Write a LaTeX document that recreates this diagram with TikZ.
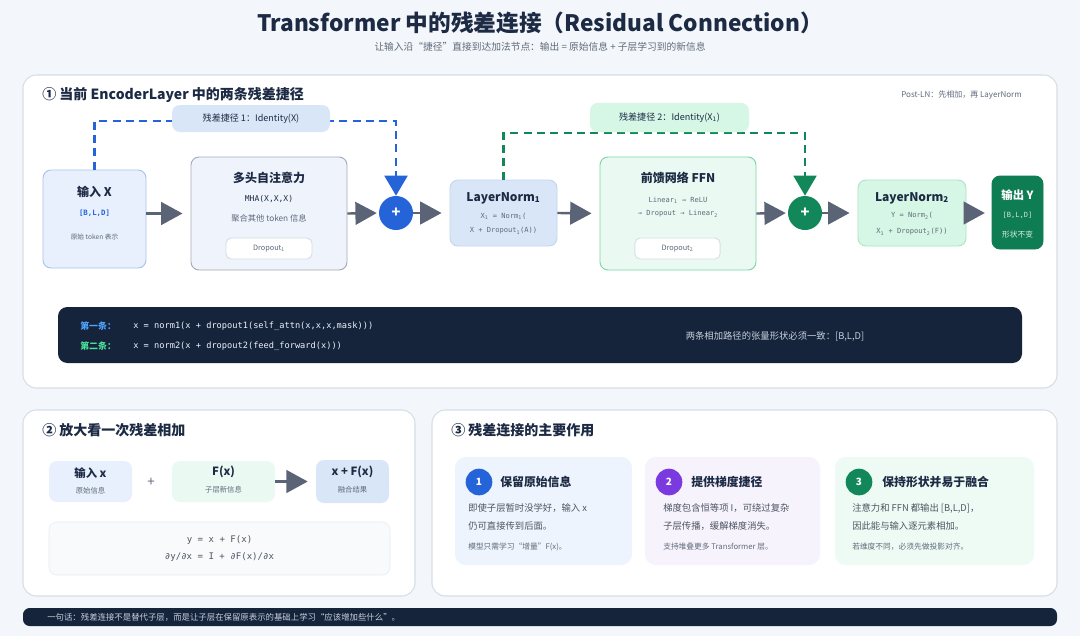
\documentclass[tikz,border=0pt]{standalone}
\usepackage{fontspec}
\setmainfont{Noto Sans CJK SC}
\setmonofont{DejaVu Sans Mono}
\usepackage{tikz}
\usetikzlibrary{arrows.meta}

\definecolor{ink}{HTML}{1C2A44}
\definecolor{bgc}{HTML}{F3F6FA}
\definecolor{rimc}{HTML}{D7DEE8}
\definecolor{arrowc}{HTML}{5B6476}
\definecolor{bluec}{HTML}{2563D9}
\definecolor{greenc}{HTML}{12885A}
\definecolor{purplec}{HTML}{7B3AE0}
\definecolor{navyc}{HTML}{15233B}
\definecolor{greyc}{HTML}{5F6B7B}
\definecolor{lightc}{HTML}{C9D1DD}
\definecolor{skyfill}{HTML}{E7F0FC}
\definecolor{skyline}{HTML}{A9C4E6}
\definecolor{skydeep}{HTML}{D9E6F8}
\definecolor{mintfill}{HTML}{EAFAF2}
\definecolor{mintline}{HTML}{7BD6A6}
\definecolor{mintdeep}{HTML}{D6F6E6}
\definecolor{mintrim}{HTML}{A9E5C6}
\definecolor{outfill}{HTML}{0E7D53}

\tikzstyle{panel} = [draw=rimc, fill=white, line width=0.8pt, rounded corners=10pt]
\tikzstyle{box} = [draw, line width=0.7pt, rounded corners=6pt]
\tikzstyle{flow} = [draw=arrowc, line width=1.8pt, -{Triangle[length=16pt,width=17pt]}, shorten >=6pt]
\tikzstyle{shortcut} = [line width=2.2pt, dash pattern=on 6pt off 4pt, -{Triangle[length=15pt,width=17pt]}]
\tikzstyle{hd} = [font=\bfseries\fontsize{9}{10}\selectfont, text=ink]
\tikzstyle{sm} = [font=\fontsize{6.2}{7}\selectfont, text=greyc]
\tikzstyle{cd} = [font=\ttfamily\fontsize{5.3}{6}\selectfont, text=greyc]
\tikzstyle{card} = [rounded corners=8pt, minimum height=81pt]
\tikzstyle{num} = [circle, minimum size=20pt, text=white, font=\bfseries\fontsize{7.5}{8}\selectfont]
\tikzstyle{ctl} = [anchor=west, font=\bfseries\fontsize{8.9}{10}\selectfont]
\tikzstyle{ctx} = [anchor=west, font=\fontsize{7}{8}\selectfont, text=greyc!80!black]
\tikzstyle{cnote} = [anchor=west, font=\fontsize{5.8}{7}\selectfont, text=greyc]

\begin{document}
\begin{tikzpicture}[x=0.75pt, y=-0.75pt]
	\tikzstyle{every node}=[inner sep=0pt, text=ink]
	\useasboundingbox (0,0) rectangle (1080,636);
	\fill[bgc] (0,0) rectangle (1080,636);
	
	% ------------------- Title ------------------- %
	\node (ttl) at (540,23) {\bfseries\fontsize{17}{20}\selectfont Transformer 中的残差连接（Residual Connection）};
	\node[font=\fontsize{7.3}{8}\selectfont, text=greyc] (sub) at (540,47) {让输入沿“捷径”直接到达加法节点：输出 = 原始信息 + 子层学习到的新信息};
	
	% ------------------- Panel 1 ------------------- %
	\node[panel, minimum width=775.5pt, minimum height=234.75pt] (p1) at (540,231.5) {};
	\node[anchor=west, font=\bfseries\fontsize{10.5}{12}\selectfont] (p1t) at (42,95) {① 当前 EncoderLayer 中的两条残差捷径};
	\node[anchor=east, font=\fontsize{6}{7}\selectfont, text=greyc] (postln) at (1022,95) {Post-LN：先相加，再 LayerNorm};
	
	\node[box, draw=skyline, fill=skyfill, minimum width=77.25pt, minimum height=73.5pt] (inx) at (94.5,219) {};
	\node[hd] (inxt) at (94.5,192) {输入 X};
	\node[font=\ttfamily\bfseries\fontsize{5.5}{6}\selectfont, text=bluec] (inxs) at (94.5,213) {[B,L,D]};
	\node[sm, font=\fontsize{5}{6}\selectfont] (inxn) at (94.5,237) {原始 token 表示};
	
	\node[box, draw=arrowc!55, fill=bluec!8, minimum width=117pt, minimum height=84.75pt] (mha) at (269,213.5) {};
	\node[hd] (mhat) at (269,178) {多头自注意力};
	\node[cd, font=\ttfamily\fontsize{6}{7}\selectfont, text=ink] (mhaf) at (269,199) {MHA(X,X,X)};
	\node[sm] (mhan) at (269,218) {聚合其他 token 信息};
	\node[box, draw=rimc, fill=white, rounded corners=4pt, minimum width=64.5pt, minimum height=15.75pt, font=\fontsize{5.5}{6}\selectfont, text=greyc] (do1) at (269,248.5) {Dropout\textsubscript{1}};
	
	\node[circle, fill=bluec, minimum size=25.5pt, text=white, font=\bfseries\fontsize{11}{12}\selectfont] (plus1) at (396,213) {+};
	
	\node[box, draw=skyline!70, fill=skydeep, minimum width=80.25pt, minimum height=49.5pt] (ln1) at (503.5,213) {};
	\node[hd] (ln1t) at (503.5,198) {LayerNorm\textsubscript{1}};
	\node[cd] (ln1a) at (503.5,216) {X\textsubscript{1} = Norm\textsubscript{1}(};
	\node[cd] (ln1b) at (503.5,231) {X + Dropout\textsubscript{1}(A))};
	
	\node[box, draw=mintline, fill=mintfill, minimum width=117pt, minimum height=84.75pt] (ffn) at (678,213.5) {};
	\node[hd] (ffnt) at (678,178) {前馈网络 FFN};
	\node[cd] (ffna) at (678,200) {Linear\textsubscript{1} → ReLU};
	\node[cd] (ffnb) at (678,214) {→ Dropout → Linear\textsubscript{2}};
	\node[box, draw=rimc, fill=white, rounded corners=4pt, minimum width=64pt, minimum height=15.75pt, font=\fontsize{5.5}{6}\selectfont, text=greyc] (do2) at (677.5,248.5) {Dropout\textsubscript{2}};
	
	\node[circle, fill=greenc, minimum size=25.5pt, text=white, font=\bfseries\fontsize{11}{12}\selectfont] (plus2) at (805,213) {+};
	
	\node[box, draw=mintrim, fill=mintdeep, minimum width=81pt, minimum height=49.5pt] (ln2) at (912,213) {};
	\node[hd] (ln2t) at (912,198) {LayerNorm\textsubscript{2}};
	\node[cd] (ln2a) at (912,216) {Y = Norm\textsubscript{2}(};
	\node[cd] (ln2b) at (912,232) {X\textsubscript{1} + Dropout\textsubscript{2}(F))};
	
	\node[box, draw=outfill, fill=outfill, minimum width=38.25pt, minimum height=54.75pt] (outy) at (1017.5,212.5) {};
	\node[hd, text=white, font=\bfseries\fontsize{8.5}{9}\selectfont] (outt) at (1017.5,195) {输出 Y};
	\node[font=\ttfamily\fontsize{5.3}{6}\selectfont, text=white!80!outfill] (outs) at (1017.5,215) {[B,L,D]};
	\node[font=\fontsize{5.8}{6}\selectfont, text=white!85!outfill] (outn) at (1017.5,235) {形状不变};
	
	% ------------------- Main arrows ------------------- %
	\draw[flow] (inx.east |- mha) -- (mha.west);
	\draw[flow, shorten >=1.5pt] (mha.east) -- (plus1.west);
	\draw[flow] (plus1.east) -- (ln1.west);
	\draw[flow] (ln1.east) -- (ffn.west);
	\draw[flow, shorten >=1.5pt] (ffn.east) -- (plus2.west);
	\draw[flow] (plus2.east) -- (ln2.west);
	\draw[flow, shorten >=5pt] (ln2.east) -- (outy.west |- ln2);
	
	% ------------------- Residual shortcuts ------------------- %
	\coordinate (c1) at (396,121);
	\coordinate (c2) at (805,133);
	\draw[shortcut, draw=bluec] (inx.north) |- (c1) -- (plus1.north);
	\draw[shortcut, draw=greenc] (ln1.north) |- (c2) -- (plus2.north);
	
	\node[fill=skydeep, rounded corners=6pt, minimum width=118.5pt, minimum height=20.25pt, font=\fontsize{6.8}{7}\selectfont] (lab1) at (251,118.5) {残差捷径 1：Identity(X)};
	\node[fill=mintdeep, rounded corners=6pt, minimum width=119.25pt, minimum height=22pt, font=\fontsize{6.8}{7}\selectfont] (lab2) at (669.5,117.5) {残差捷径 2：Identity(X\textsubscript{1})};
	
	% ------------------- Code bar ------------------- %
	\node[fill=navyc, rounded corners=7pt, minimum width=723pt, minimum height=42pt] (code) at (540,335) {};
	\node[anchor=west, font=\bfseries\fontsize{6.7}{7}\selectfont, text={rgb,255:red,78;green,163;blue,255}] (k1) at (80,326) {第一条：};
	\node[anchor=west, font=\ttfamily\fontsize{6.5}{7}\selectfont, text=white!92!bluec] (k1c) at (133,326) {x = norm1(x + dropout1(self\_attn(x,x,x,mask)))};
	\node[anchor=west, font=\bfseries\fontsize{6.7}{7}\selectfont, text={rgb,255:red,74;green,222;blue,154}] (k2) at (80,346) {第二条：};
	\node[anchor=west, font=\ttfamily\fontsize{6.5}{7}\selectfont, text=white!92!bluec] (k2c) at (133,346) {x = norm2(x + dropout2(feed\_forward(x)))};
	\node[font=\fontsize{7}{8}\selectfont, text=lightc] (shape) at (775,336) {两条相加路径的张量形状必须一致：[B,L,D]};
	
	% ------------------- Panel 2 ------------------- %
	\node[panel, minimum width=294pt, minimum height=139.5pt] (p2) at (219,503) {};
	\node[anchor=west, font=\bfseries\fontsize{10.5}{12}\selectfont] (p2t) at (42,430) {② 放大看一次残差相加};
	
	\node[fill=skyfill, rounded corners=6pt, minimum width=62.25pt, minimum height=30.75pt] (bx) at (90.5,481.5) {};
	\node[hd, font=\bfseries\fontsize{8.5}{9}\selectfont] (bxt) at (90.5,473) {输入 x};
	\node[sm, font=\fontsize{5.5}{6}\selectfont] (bxn) at (90.5,491) {原始信息};
	\node[font=\fontsize{10}{11}\selectfont, text=greyc] (pl) at (151,482) {+};
	\node[fill=mintfill, rounded corners=6pt, minimum width=77.25pt, minimum height=30.75pt] (bf) at (223.5,481.5) {};
	\node[hd, font=\bfseries\fontsize{8.5}{9}\selectfont] (bft) at (223.5,472) {F(x)};
	\node[sm, font=\fontsize{5.5}{6}\selectfont] (bfn) at (223.5,490) {子层新信息};
	\node[fill=skydeep, rounded corners=6pt, minimum width=54.75pt, minimum height=32.25pt] (bs) at (352.5,481.5) {};
	\node[hd, font=\bfseries\fontsize{8.5}{9}\selectfont] (bst) at (352.5,472) {x + F(x)};
	\node[sm, font=\fontsize{5.5}{6}\selectfont] (bsn) at (352.5,490) {融合结果};
	\draw[flow] (bf.east) -- (bs.west);
	
	\node[draw=rimc!60, fill=bgc!60, rounded corners=6pt, minimum width=255.75pt, minimum height=39.75pt] (fml) at (219.5,548.5) {};
	\node[font=\ttfamily\fontsize{6.8}{7}\selectfont, text=greyc!80!black] (fml1) at (219.5,540) {y = x + F(x)};
	\node[font=\ttfamily\fontsize{6.8}{7}\selectfont, text=greyc!80!black] (fml2) at (219.5,557) {∂y/∂x = I + ∂F(x)/∂x};
	
	% ------------------- Panel 3 ------------------- %
	\node[panel, minimum width=468.75pt, minimum height=139.5pt] (p3) at (744.5,503) {};
	\node[anchor=west, font=\bfseries\fontsize{10.5}{12}\selectfont] (p3t) at (451,430) {③ 残差连接的主要作用};
	
	\node[card, fill=skyfill!75, minimum width=132.75pt] (c1b) at (543.5,511) {};
	\node[num, fill=bluec] (n1) at (479,482) {1};
	\node[ctl] (t1) at (500,482) {保留原始信息};
	\node[ctx] (a1) at (468,508) {即使子层暂时没学好，输入 x};
	\node[ctx] (b1) at (468,526) {仍可直接传到后面。};
	\node[cnote] (d1) at (468,547) {模型只需学习“增量”F(x)。};
	
	\node[card, fill=purplec!6, minimum width=131.25pt] (c2b) at (732.5,511) {};
	\node[num, fill=purplec] (n2) at (669,482) {2};
	\node[ctl] (t2) at (691,482) {提供梯度捷径};
	\node[ctx] (a2) at (663,508) {梯度包含恒等项 I，可绕过复杂};
	\node[ctx] (b2) at (663,526) {子层传播，缓解梯度消失。};
	\node[cnote] (d2) at (663,547) {支持堆叠更多 Transformer 层。};
	
	\node[card, fill=mintfill!85, minimum width=149.25pt] (c3b) at (934.5,511) {};
	\node[num, fill=greenc] (n3) at (859,482) {3};
	\node[ctl] (t3) at (882,482) {保持形状并易于融合};
	\node[ctx] (a3) at (852,508) {注意力和 FFN 都输出 [B,L,D]，};
	\node[ctx] (b3) at (852,526) {因此能与输入逐元素相加。};
	\node[cnote] (d3) at (852,547) {若维度不同，必须先做投影对齐。};
	
	% ------------------- Footer ------------------- %
	\node[fill=navyc, rounded corners=5pt, minimum width=775.5pt, minimum height=13.5pt] (foot) at (540,617) {};
	\node[anchor=west, font=\fontsize{6.3}{7}\selectfont, text=lightc] (foott) at (47,617) {一句话：残差连接不是替代子层，而是让子层在保留原表示的基础上学习“应该增加些什么”。};
\end{tikzpicture}
\end{document}
